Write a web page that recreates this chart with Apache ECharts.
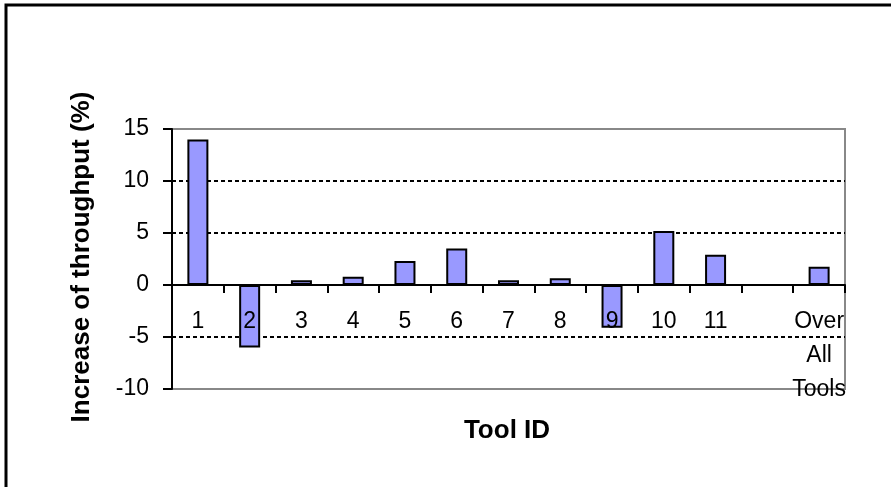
<!DOCTYPE html>
<html><head><meta charset="utf-8">
<script src="https://cdn.jsdelivr.net/npm/echarts@6/dist/echarts.min.js"></script>
<style>html,body{margin:0;padding:0;background:#fff}#c{width:891px;height:487px}</style>
</head><body><div id="c"></div>
<script>
const categories = ['1','2','3','4','5','6','7','8','9','10','11','','Over\nAll\nTools'];
const values = [14.0, -6.0, 0.45, 0.8, 2.3, 3.5, 0.45, 0.65, -4.1, 5.2, 2.9, null, 1.75];
const yTicks = {min: -10, max: 15, interval: 5};
const yTitle = 'Increase of throughput (%)';
const xTitle = 'Tool ID';

const FONT = '"Liberation Sans", Arial, sans-serif';
const chart = echarts.init(document.getElementById('c'), null, {renderer: 'canvas'});
chart.setOption({
  animation: false,
  backgroundColor: '#fff',
  grid: {left: 172, right: 46, top: 129, bottom: 98, show: true, borderColor: '#888', borderWidth: 2, backgroundColor: 'transparent', containLabel: false, outerBoundsMode: 'none'},
  xAxis: {
    type: 'category', data: categories, z: 5,
    axisLine: {onZero: true, lineStyle: {color: '#000', width: 2}},
    axisTick: {show: true, length: 8, inside: false, lineStyle: {color: '#000', width: 2}},
    axisLabel: {color: '#000', fontFamily: FONT, fontSize: 23, margin: -84, lineHeight: 34, interval: 0}
  },
  yAxis: {
    type: 'value', min: yTicks.min, max: yTicks.max, interval: yTicks.interval,
    axisLine: {show: true, lineStyle: {color: '#000', width: 2}},
    axisTick: {show: true, length: 9, lineStyle: {color: '#000', width: 2}},
    axisLabel: {color: '#000', fontFamily: FONT, fontSize: 23, margin: 23},
    splitLine: {show: true, lineStyle: {color: ['transparent', '#000', 'transparent', '#000', '#000', 'transparent'], width: 2, type: [4, 3]}}
  },
  series: [{
    type: 'bar', data: values, barWidth: 21,
    itemStyle: {color: '#9999FF', borderColor: '#000', borderWidth: 2}
  }],
  graphic: [
    {type: 'rect', shape: {x: 6, y: 5, width: 1000, height: 1000}, style: {fill: 'transparent', stroke: '#000', lineWidth: 3}, silent: true},
    {type: 'text', x: 82, y: 257, rotation: Math.PI / 2, style: {text: yTitle, font: 'bold 26px ' + FONT, fill: '#000', textAlign: 'center', textVerticalAlign: 'middle'}},
    {type: 'text', x: 507, y: 431, style: {text: xTitle, font: 'bold 26px ' + FONT, fill: '#000', textAlign: 'center', textVerticalAlign: 'middle'}}
  ]
});
</script></body></html>
